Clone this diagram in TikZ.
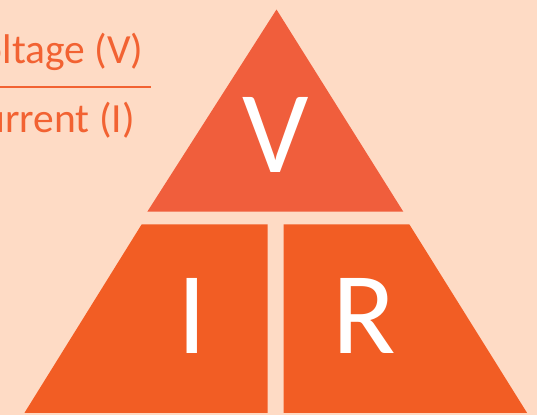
\documentclass[tikz,border=0pt]{standalone}
\usepackage{fontspec}
\setmainfont{Carlito}
\definecolor{bg}{RGB}{254,219,197}
\definecolor{topc}{RGB}{240,94,60}
\definecolor{botc}{RGB}{242,93,36}
\definecolor{txt}{RGB}{242,98,50}
\tikzset{
  biglet/.style={anchor=base, inner sep=0pt, text=white, font=\fontsize{117}{130}\selectfont},
  sidetxt/.style={anchor=base east, inner sep=0pt, text=txt, font=\fontsize{41.5}{50}\selectfont}
}
\begin{document}
\begin{tikzpicture}[x=1pt,y=-1pt]
\useasboundingbox (0,0) rectangle (537,415);
\clip (0,0) rectangle (537,415);
\fill[bg] (0,0) rectangle (537,415);
% triangle pieces
\fill[topc] (276.5,9.5) -- (403.3,211.7) -- (147.3,211.7) -- cycle;
\fill[botc] (141.7,224.3) -- (267.7,224.3) -- (267.7,412.8) -- (24.5,412.8) -- cycle;
\fill[botc] (283.6,224.3) -- (409.3,224.3) -- (527,412.8) -- (283.6,412.8) -- cycle;
% letters
\node[biglet] (v) at (276,172.7) {V};
\node[biglet] (i) at (192.5,353.3) {I};
\node[biglet] (r) at (364,353.3) {R};
% side formula
\node[sidetxt] (volt) at (143.5,63) {Voltage (V)};
\node[sidetxt] (curr) at (135,132) {Current (I)};
\draw[txt, line width=2pt] (0,87) -- (150.7,87);
\end{tikzpicture}
\end{document}
